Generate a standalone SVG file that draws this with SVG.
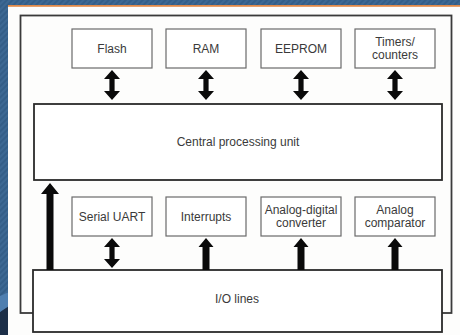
<svg xmlns="http://www.w3.org/2000/svg" width="460" height="335" viewBox="0 0 460 335">
  <style>
    .box { fill: #ffffff; stroke: #6a6a6a; stroke-width: 1.2; }
    .major { fill: #ffffff; stroke: #2a2a2a; stroke-width: 1.8; }
    .frame { fill: none; stroke: #3a3a3a; stroke-width: 1.8; }
    .label { font-family: "Liberation Sans", Arial, sans-serif; font-size: 12px; fill: #3a3a3a; text-anchor: middle; }
    .arrow { fill: #0a0a0a; }
  </style>
  <defs>
    <pattern id="weave" width="4" height="4" patternUnits="userSpaceOnUse" patternTransform="rotate(45)">
      <rect width="4" height="4" fill="#3d6893"/>
      <rect width="2" height="4" fill="#345e88"/>
    </pattern>
    <!-- two-headed arrow, 30 px tall, origin at the top tip -->
    <polygon id="dbl" points="0,0 8,9 2.6,9 2.6,21 8,21 0,30 -8,21 -2.6,21 -2.6,9 -8,9"/>
    <!-- single upward arrow, 32 px tall, origin at the tip -->
    <polygon id="up" points="0,0 7.5,9 3.5,9 3.5,32 -3.5,32 -3.5,9 -7.5,9"/>
  </defs>

  <!-- slide background -->
  <rect width="460" height="335" fill="url(#weave)"/>
  <path d="M0,312 C5,308 8,306 9,305 L9,335 L0,335 Z" fill="#1c2f48"/>
  <path d="M0,296 L9,292 L9,306 L0,312 Z" fill="#4f7fb0"/>
  <rect x="8" y="6" width="452" height="329" fill="#fdfdfc"/>
  <rect x="8" y="5" width="452" height="1.8" fill="#e08a4a"/>

  <!-- outer frame -->
  <rect class="frame" x="20.5" y="15.5" width="431" height="297.5"/>

  <g id="flash">
    <rect class="box" x="72" y="29" width="80" height="39"/>
    <text class="label" x="112" y="53">Flash</text>
  </g>
  <g id="ram">
    <rect class="box" x="166" y="29" width="80" height="39"/>
    <text class="label" x="206" y="53">RAM</text>
  </g>
  <g id="eeprom">
    <rect class="box" x="261" y="29" width="80" height="39"/>
    <text class="label" x="301" y="53">EEPROM</text>
  </g>
  <g id="timers">
    <rect class="box" x="355" y="29" width="80" height="39"/>
    <text class="label" x="395" y="46">Timers/</text>
    <text class="label" x="395" y="59">counters</text>
  </g>

  <g id="cpu">
    <rect class="major" x="34" y="104" width="408" height="76"/>
    <text class="label" x="238" y="146">Central processing unit</text>
  </g>

  <g id="uart">
    <rect class="box" x="72" y="197" width="80" height="39"/>
    <text class="label" x="112" y="221">Serial UART</text>
  </g>
  <g id="interrupts">
    <rect class="box" x="166" y="197" width="80" height="39"/>
    <text class="label" x="206" y="221">Interrupts</text>
  </g>
  <g id="adc">
    <rect class="box" x="261" y="197" width="80" height="39"/>
    <text class="label" x="301" y="214">Analog-digital</text>
    <text class="label" x="301" y="227">converter</text>
  </g>
  <g id="comparator">
    <rect class="box" x="355" y="197" width="80" height="39"/>
    <text class="label" x="395" y="214">Analog</text>
    <text class="label" x="395" y="227">comparator</text>
  </g>

  <g id="io">
    <rect class="major" x="33" y="270" width="409" height="62"/>
    <text class="label" x="237" y="303">I/O lines</text>
  </g>

  <g id="connectors" class="arrow">
    <use href="#dbl" x="112" y="70"/>
    <use href="#dbl" x="206" y="70"/>
    <use href="#dbl" x="301" y="70"/>
    <use href="#dbl" x="395" y="70"/>
    <use href="#dbl" x="112" y="238"/>
    <use href="#up" x="206" y="238"/>
    <use href="#up" x="301" y="238"/>
    <use href="#up" x="395" y="238"/>
    <polygon points="50,183 59,194 53.5,194 53.5,270 46.5,270 46.5,194 41,194"/>
  </g>
</svg>
